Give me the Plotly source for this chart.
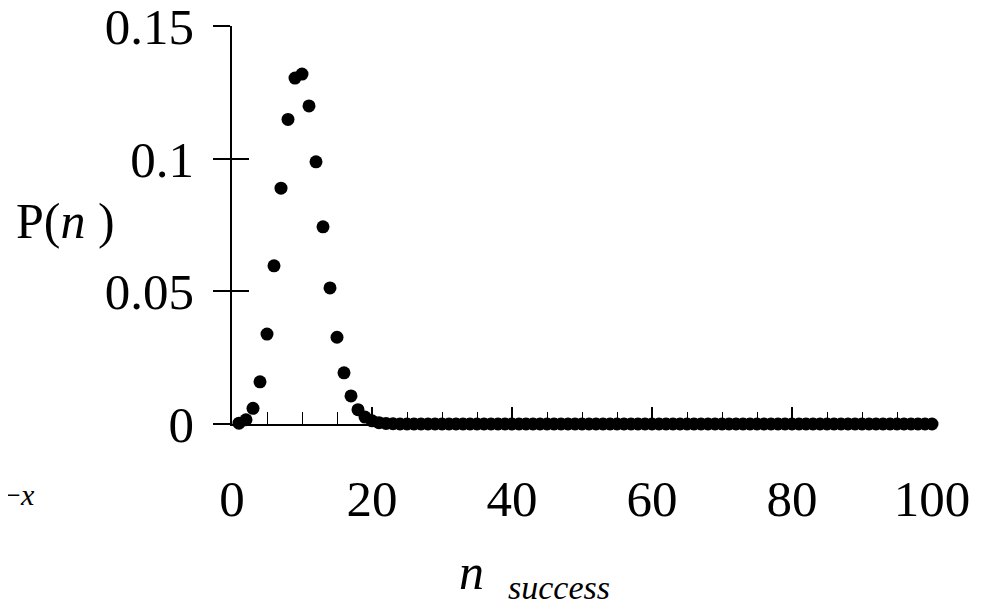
import plotly.graph_objects as go

n_values = list(range(1, 101))
p_values = [
    0.0003, 0.0016, 0.0059, 0.0159, 0.0339, 0.0596, 0.0889, 0.1148, 0.1304, 0.1319,
    0.1199, 0.0988, 0.0743, 0.0513, 0.0327, 0.0193, 0.0106, 0.0054, 0.0026, 0.0012,
    0.0005, 0.0002, 0.0001, 0.0, 0.0, 0.0, 0.0, 0.0, 0.0, 0.0,
] + [0.0] * 70

x_ticks = [0, 20, 40, 60, 80, 100]
y_ticks = [0, 0.05, 0.1, 0.15]
y_tick_labels = ["0", "0.05", "0.1", "0.15"]

FONT = "Liberation Serif, Times New Roman, serif"

fig = go.Figure()
fig.add_trace(go.Scatter(
    x=n_values, y=p_values, mode="markers",
    marker=dict(color="black", size=13),
    cliponaxis=False, showlegend=False,
))
# overlay axis only for the inside half of the crossing y ticks
fig.add_trace(go.Scatter(x=[None], y=[None], yaxis="y2", showlegend=False))

fig.update_layout(
    width=984, height=601,
    margin=dict(l=224, r=60, t=18, b=185),
    paper_bgcolor="white", plot_bgcolor="white",
    font=dict(family=FONT, color="black", size=51),
    xaxis=dict(
        range=[0, 100], tickvals=x_ticks, ticks="inside", ticklen=17, tickwidth=1.5,
        tickcolor="black", showline=True, linecolor="black", linewidth=1.5,
        showgrid=False, zeroline=False, ticklabelstandoff=29, automargin=False,
        ticklabeloverflow="allow", tickfont=dict(family=FONT, size=51),
        minor=dict(dtick=5, tick0=0, ticks="inside", ticklen=12, tickwidth=1.2,
                   tickcolor="black", showgrid=False),
    ),
    yaxis=dict(
        range=[0, 0.15001], tickvals=y_ticks, ticktext=y_tick_labels, ticks="outside",
        ticklen=17, tickwidth=1.5, tickcolor="black", showline=True, linecolor="black",
        linewidth=1.5, showgrid=False, zeroline=False, ticklabelstandoff=9,
        automargin=False, ticklabeloverflow="allow", tickfont=dict(family=FONT, size=51),
    ),
    yaxis2=dict(
        range=[0, 0.15001], tickvals=y_ticks, ticks="inside", ticklen=17, tickwidth=1.5,
        tickcolor="black", showticklabels=False, overlaying="y", side="left",
        showline=False, showgrid=False, zeroline=False, automargin=False,
    ),
    annotations=[
        dict(text="P(<i>n</i> )", xref="paper", yref="paper", x=-0.312, y=0.51,
             xanchor="left", yanchor="middle", showarrow=False,
             font=dict(family=FONT, size=50)),
        dict(text="<i>n</i>", xref="paper", yref="paper", x=0.322, y=-0.373,
             xanchor="left", yanchor="middle", showarrow=False,
             font=dict(family=FONT, size=50)),
        dict(text="<i>success</i>", xref="paper", yref="paper", x=0.391, y=-0.412,
             xanchor="left", yanchor="middle", showarrow=False,
             font=dict(family=FONT, size=34)),
        dict(text="\u2212<i>x</i>", xref="paper", yref="paper", x=-0.279, y=-0.178,
             xanchor="right", yanchor="middle", showarrow=False,
             font=dict(family=FONT, size=30)),
    ],
)

fig.write_html("out.html")
